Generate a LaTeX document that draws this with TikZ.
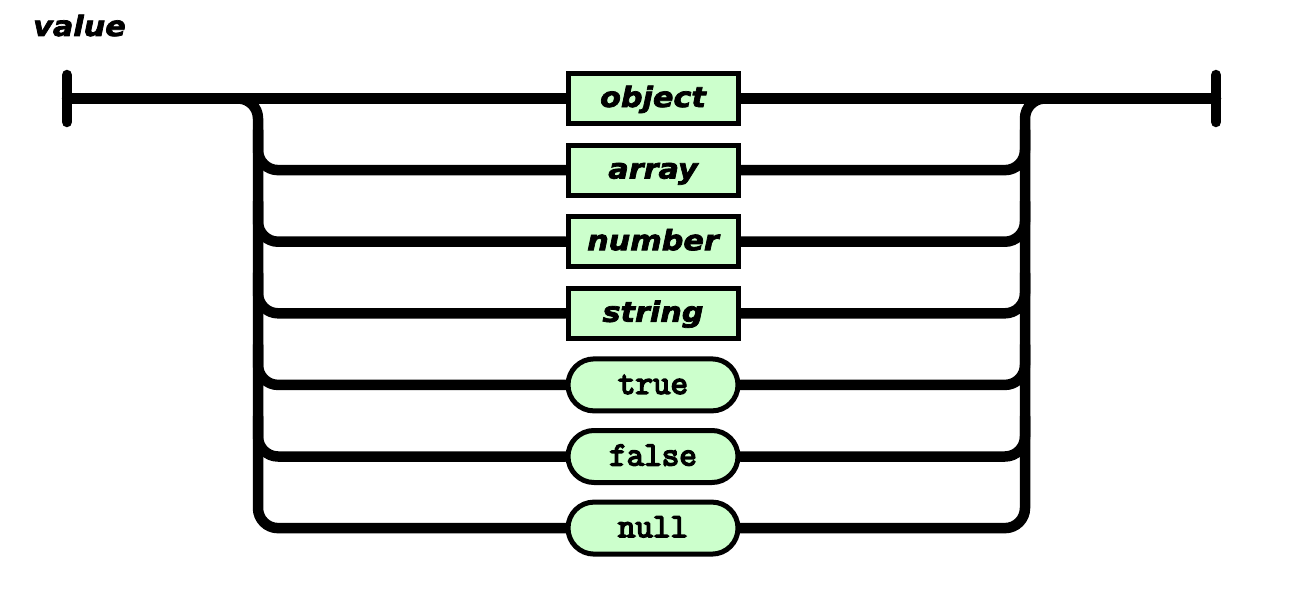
\documentclass[tikz,border=0pt]{standalone}
\usepackage{fontspec}
\newfontfamily\hvfont[FakeStretch=1.08,BoldItalicFeatures={FakeBold=2.6}]{DejaVu Sans}
\newfontfamily\cofont[FakeBold=4.5]{Latin Modern Mono}
\usetikzlibrary{shapes.misc,calc,backgrounds}
\definecolor{boxgreen}{RGB}{204,255,204}
\tikzset{
  rail/.style={line width=10.5pt, line cap=round, line join=round},
  railr/.style={rail, rounded corners=20pt},
  nt/.style={draw, line width=5pt, fill=boxgreen, rectangle, minimum width=170pt,
    minimum height=50pt, inner sep=0pt, text height=21pt, text depth=4pt,
    font=\hvfont\bfseries\itshape\fontsize{28}{30}\selectfont},
  tm/.style={draw, line width=5pt, fill=boxgreen, rounded rectangle, minimum width=170pt,
    minimum height=52pt, inner sep=0pt, text height=22pt, text depth=4pt,
    font=\cofont\fontsize{34}{36}\selectfont},
}
\begin{document}
\begin{tikzpicture}[x=1pt,y=-1pt]
\useasboundingbox (0,0) rectangle (1306,610);
\node[anchor=base west, inner sep=0pt, font=\hvfont\bfseries\itshape\fontsize{28}{30}\selectfont] (title) at (33,36) {value};
\coordinate (L) at (258,0);
\coordinate (R) at (1025,0);
\coordinate (S) at (67,98.5);
\coordinate (E) at (1216,98.5);
\coordinate (S1) at (67,75);
\coordinate (S2) at (67,122);
\coordinate (E1) at (1216,75);
\coordinate (E2) at (1216,122);
\node[nt] (obj) at (653,98.5) {object};
\node[nt] (arr) at (653,170.1) {array};
\node[nt] (num) at (653,241.7) {number};
\node[nt] (str) at (653,313.3) {string};
\node[tm] (tru) at (653,384.9) {true};
\node[tm] (fal) at (653,456.5) {false};
\node[tm] (nul) at (653,528.1) {null};
\begin{scope}[on background layer]
\draw[rail] (S1) -- (S2);
\draw[rail] (E1) -- (E2);
\draw[rail] (S) -- (obj.west);
\draw[rail] (obj.east) -- (E);
\draw[railr] ($(L |- S)+(-40,0)$) -- (L |- S) -- (L |- nul.west) -- (nul.west);
\foreach \n in {arr,num,str,tru,fal}{
  \draw[railr] ($(L |- \n.west)+(0,-40)$) -- (L |- \n.west) -- (\n.west);
}
\draw[railr] (nul.east) -- (R |- nul.east) -- (R |- E) -- ($(R |- E)+(40,0)$);
\foreach \n in {arr,num,str,tru,fal}{
  \draw[railr] (\n.east) -- (R |- \n.east) -- ($(R |- \n.east)+(0,-40)$);
}
\end{scope}
\end{tikzpicture}
\end{document}
